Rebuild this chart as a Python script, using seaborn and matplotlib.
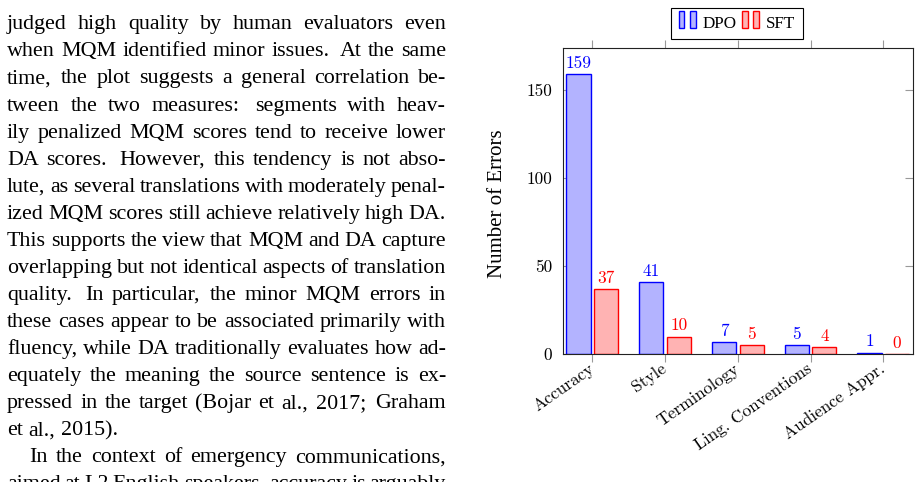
import matplotlib
matplotlib.use("Agg")
import matplotlib.pyplot as plt
import seaborn as sns
import pandas as pd
from matplotlib.patches import Rectangle
from matplotlib.legend_handler import HandlerBase

# ---------------- data ----------------
categories = ["Accuracy", "Style", "Terminology", "Ling. Conventions", "Audience Appr."]
dpo_errors = [159, 41, 7, 5, 1]
sft_errors = [37, 10, 5, 4, 0]
series_names = ["DPO", "SFT"]
yticks = [0, 50, 100, 150]
ylabel = "Number of Errors"

paragraph_lines = [
    "judged high quality by human evaluators even",
    "when MQM identified minor issues. At the same",
    "time, the plot suggests a general correlation be-",
    "tween the two measures: segments with heav-",
    "ily penalized MQM scores tend to receive lower",
    "DA scores. However, this tendency is not abso-",
    "lute, as several translations with moderately penal-",
    "ized MQM scores still achieve relatively high DA.",
    "This supports the view that MQM and DA capture",
    "overlapping but not identical aspects of translation",
    "quality. In particular, the minor MQM errors in",
    "these cases appear to be associated primarily with",
    "fluency, while DA traditionally evaluates how ad-",
    "equately the meaning the source sentence is ex-",
    "pressed in the target (Bojar et al., 2017; Graham",
    "et al., 2015).",
    "In the context of emergency communications,",
    "aimed at L2 English speakers, accuracy is arguably",
]
ragged_lines = [15]      # paragraph-final line (not justified)
indented_lines = [16]    # paragraph start

# ---------------- style ----------------
W, H = 920, 482
fill = {"DPO": "#B3B3FF", "SFT": "#FFB3B3"}
edge = {"DPO": "#0000FF", "SFT": "#FF0000"}
plt.rcParams["axes.formatter.use_mathtext"] = True
CM = "cmr10"
SERIF = "Liberation Serif"

fig = plt.figure(figsize=(W / 100, H / 100), dpi=100)
ax = fig.add_axes([563 / W, 1 - 354.3 / H, (913 - 563) / W, (354.3 - 47.7) / H])

df = pd.DataFrame({
    "Category": categories * 2,
    "Errors": dpo_errors + sft_errors,
    "Model": [series_names[0]] * len(categories) + [series_names[1]] * len(categories),
})
sns.barplot(data=df, x="Category", y="Errors", hue="Model", order=categories,
            hue_order=series_names, palette=fill, saturation=1, width=0.76, gap=0.13,
            linewidth=1.0, errorbar=None, legend=False, ax=ax)
for cont, name in zip(ax.containers, series_names):
    for p in cont:
        p.set_edgecolor(edge[name])
        p.set_linewidth(1.0)
    ax.bar_label(cont, padding=2.5, color=edge[name], fontsize=12.5, fontfamily=CM)

ax.set_axisbelow(True)
ax.set_xlim(-0.403, 4.408)
ax.set_ylim(0, 174.2)
ax.set_yticks(yticks)
ax.set_yticklabels([str(v) for v in yticks], fontfamily=CM, fontsize=12.5)
ax.tick_params(axis="y", direction="in", length=5.8, width=0.8, color="#999999",
               left=True, right=True, pad=7.9)
ax.tick_params(axis="x", direction="out", length=5.8, width=0.8, color="#999999",
               top=True, bottom=True, pad=3.5)
ax.set_xticks(range(len(categories)))
ax.set_xticklabels(categories, rotation=35, ha="right", va="center",
                   rotation_mode="anchor", fontfamily=CM, fontsize=12.5)
ax.set_xlabel("")
ax.set_ylabel(ylabel, fontfamily=SERIF, fontsize=15)
ax.yaxis.set_label_coords(-0.161, 0.49)
for s in ax.spines.values():
    s.set_color("#222222")
    s.set_linewidth(0.8)


class TwoBars(HandlerBase):
    def create_artists(self, legend, orig_handle, xdescent, ydescent, width, height,
                       fontsize, trans):
        fc = orig_handle.get_facecolor()
        ec = orig_handle.get_edgecolor()
        w = width * 0.33
        h = height * 1.45
        y0 = -ydescent - 0.05 * height
        r1 = Rectangle((-xdescent, y0), w, h, fc=fc, ec=ec, lw=1.0, transform=trans)
        r2 = Rectangle((-xdescent + width * 0.66, y0), w, h, fc=fc, ec=ec, lw=1.0,
                       transform=trans)
        return [r1, r2]


handles = [Rectangle((0, 0), 1, 1, fc=fill[n], ec=edge[n]) for n in series_names]
leg = fig.legend(handles, series_names, loc="center", bbox_to_anchor=(737 / W, 1 - 23.5 / H),
                 ncol=2, frameon=True, fancybox=False, edgecolor="black", framealpha=1,
                 prop={"family": SERIF, "size": 12.3}, handler_map={Rectangle: TwoBars()},
                 handlelength=1.0, handletextpad=0.4, columnspacing=0.3, borderpad=0.45,
                 borderaxespad=0)
leg.get_frame().set_linewidth(0.8)

# ---------------- paragraph text (justified) ----------------
renderer = fig.canvas.get_renderer()
x_left, x_right = 7.0, 446.0
base0, step = 29.3, 27.07
fs = 15.8
extra = {".": 0.6, ":": 0.4, ";": 0.25, ",": 0.1}
for i, line in enumerate(paragraph_lines):
    base = base0 + step * i
    start = x_left + (22.0 if i in indented_lines else 0.0)
    words = line.split()
    texts = [fig.text(0, 1 - base / H, w, fontsize=fs, family=SERIF, va="baseline",
                      ha="left", color="black") for w in words]
    widths = [t.get_window_extent(renderer).width for t in texts]
    weights = [1.0 + extra.get(w[-1], 0.0) for w in words[:-1]]
    if i in ragged_lines or len(words) == 1:
        unit = 0.25 * fs * 100 / 72
    else:
        unit = (x_right - start - sum(widths)) / sum(weights)
    x = start
    for k, t in enumerate(texts):
        t.set_x(x / W)
        x += widths[k]
        if k < len(weights):
            x += unit * weights[k]

fig.savefig("out.png", dpi=100)
